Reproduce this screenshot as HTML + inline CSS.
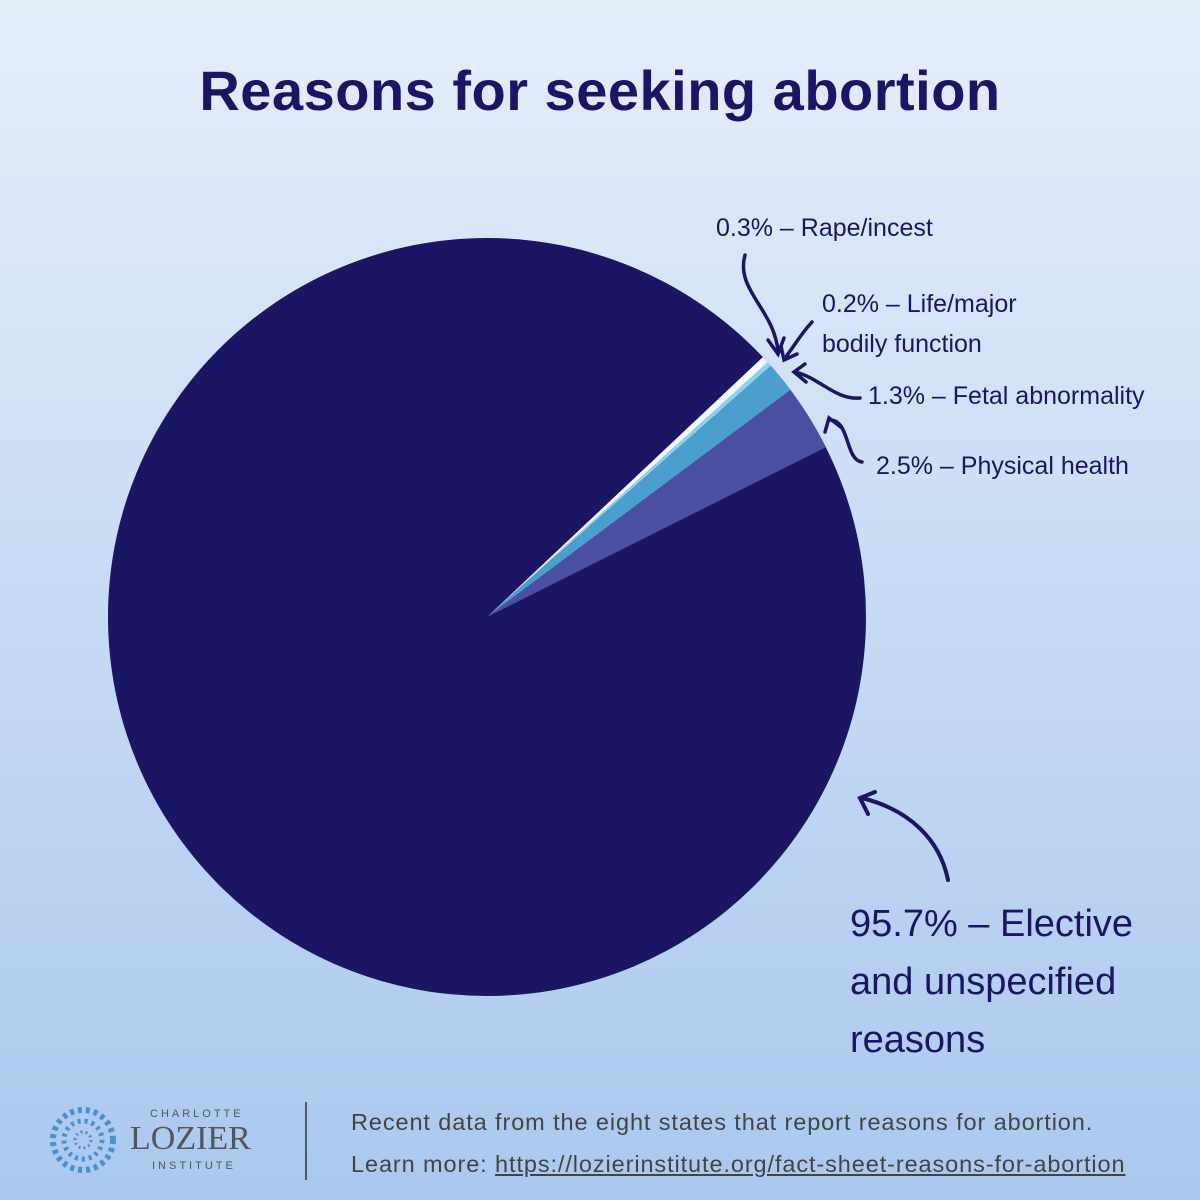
<!DOCTYPE html>
<html><head><meta charset="utf-8"><style>
html,body{margin:0;padding:0}
body{width:1200px;height:1200px;position:relative;overflow:hidden;background:linear-gradient(#e5eefb,#aac8ee);font-family:"Liberation Sans",sans-serif;color:#1c1563}
.t{position:absolute;white-space:nowrap}
.h{font-family:"Liberation Sans Narrow","Liberation Sans",sans-serif;font-size:25px;color:#1c1563}
</style></head><body>
<div class="t" style="left:0;width:1200px;text-align:center;top:58px;font-size:56px;font-weight:bold;letter-spacing:0.5px">Reasons for seeking abortion</div>
<svg width="1200" height="1200" style="position:absolute;left:0;top:0">
<circle cx="487" cy="617" r="379" fill="#1c1563"/>
<path d="M487,617 L762.8,357.1 A379,379 0 0 1 767.8,362.4 Z" fill="#f2f8ff"/>
<path d="M487,617 L767.8,362.4 A379,379 0 0 1 770.9,365.9 Z" fill="#8fd0ee"/>
<path d="M487,617 L770.9,365.9 A379,379 0 0 1 790.5,390 Z" fill="#4a9fcd"/>
<path d="M487,617 L790.5,390 A379,379 0 0 1 825.9,447.3 Z" fill="#4a4fa2"/>
<g fill="none" stroke="#1c1563" stroke-width="3.5" stroke-linecap="round">
<path d="M745,255 C735,290 775,310 778,352"/><path d="M768,340 L778,354 L784,338"/>
<path d="M812,322 C800,335 795,345 785,358"/><path d="M781,346 L784,360 L797,354"/>
<path d="M860,398 C835,400 820,378 795,372"/><path d="M805,364 L794,372 L806,382"/>
<path d="M862,462 C845,460 850,420 830,420"/><path d="M825,432 L829,418 L842,428"/>
<path d="M948,880 C940,840 910,810 862,798" stroke-width="4"/><path d="M875,792 L860,798 L868,814" stroke-width="4"/>
</g>
<line x1="306" y1="1102" x2="306" y2="1180" stroke="#333" stroke-width="1.5"/>
<g fill="#4a90d0">
<circle cx="83" cy="1140" r="30" fill="none" stroke="#4a90d0" stroke-width="6" stroke-dasharray="4 4"/>
<circle cx="83" cy="1140" r="19" fill="none" stroke="#4a90d0" stroke-width="5" stroke-dasharray="3 4"/>
<circle cx="83" cy="1140" r="8" fill="none" stroke="#4a90d0" stroke-width="3" stroke-dasharray="2 3"/>
</g>
</svg>
<div class="t h" style="left:716px;top:214px">0.3% – Rape/incest</div>
<div class="t h" style="left:822px;top:284px;line-height:40px">0.2% – Life/major<br>bodily function</div>
<div class="t h" style="left:868px;top:382px">1.3% – Fetal abnormality</div>
<div class="t h" style="left:876px;top:452px">2.5% – Physical health</div>
<div class="t h" style="left:850px;top:895px;font-size:38px;line-height:58px">95.7% – Elective<br>and unspecified<br>reasons</div>
<div class="t" style="left:150px;top:1108px;font-size:11px;letter-spacing:3px;color:#555">CHARLOTTE</div>
<div class="t" style="left:130px;top:1120px;font-size:34px;font-family:'Liberation Serif',serif;color:#555">LOZIER</div>
<div class="t" style="left:152px;top:1160px;font-size:11px;letter-spacing:3px;color:#555">INSTITUTE</div>
<div class="t" style="left:351px;top:1101px;font-size:23.5px;letter-spacing:0.9px;color:#444;line-height:42px">Recent data from the eight states that report reasons for abortion.<br>Learn more: <u>https://lozierinstitute.org/fact-sheet-reasons-for-abortion</u></div>
</body></html>
